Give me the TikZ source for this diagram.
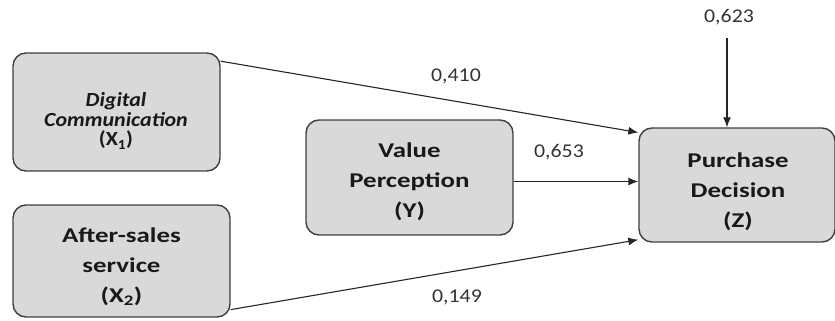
\documentclass[tikz,border=0pt]{standalone}
\usepackage{fontspec}
\setmainfont{Carlito}
\usetikzlibrary{arrows.meta}
\definecolor{boxfill}{RGB}{217,217,217}
\definecolor{boxline}{RGB}{64,64,64}
\definecolor{numcol}{RGB}{51,51,51}
\tikzset{
  box/.style={draw=boxline, fill=boxfill, line width=1.4pt, rounded corners=13pt},
  txt/.style={align=center, font=\fontsize{21}{30}\selectfont\bfseries, text=black!90,
    xscale=1.28, transform shape},
  coef/.style={font=\fontsize{19.5}{22}\selectfont, text=numcol, xscale=1.12, transform shape},
  path/.style={draw=black!85, line width=1.1pt, -{Latex[length=10pt,width=8pt]}}
}
\begin{document}
\begin{tikzpicture}[x=1pt,y=-1pt]
\useasboundingbox (0,0) rectangle (835,321);

% boxes
\node[box, minimum width=207, minimum height=118] (x1) at (116.5,112) {};
\node[box, minimum width=217, minimum height=112] (x2) at (121.5,261) {};
\node[box, minimum width=207, minimum height=115] (y) at (409.5,177.5) {};
\node[box, minimum width=196, minimum height=114] (z) at (737,185) {};

% texts
\node[txt, font=\fontsize{20}{19.5}\selectfont\bfseries, xscale=0.86] (x1t) at (116,121) {\textit{Digital}\\\textit{Communication}\\(X\textsubscript{1})};
\node[txt] (x2t) at (121.5,267) {After-sales\\service\\(X\textsubscript{2})};
\node[txt] (yt) at (409.5,182) {Value\\Perception\\(Y)};
\node[txt] (zt) at (738,192) {Purchase\\Decision\\(Z)};

% coefficients
\node[coef] (c1) at (456,76) {0,410};
\node[coef] (c2) at (559,152) {0,653};
\node[coef] (c3) at (457,297) {0,149};
\node[coef] (c4) at (729,17) {0,623};

\coordinate (e) at (727,38);

% arrows
\draw[path] (x1.26) -- (z.152);
\draw[path] ([yshift=-4pt]y.east) -- ([yshift=-4pt]y.east -| z.west);
\draw[path] (x2.-24) -- (z.209);
\draw[path] (e) -- (e |- z.north);
\end{tikzpicture}
\end{document}
